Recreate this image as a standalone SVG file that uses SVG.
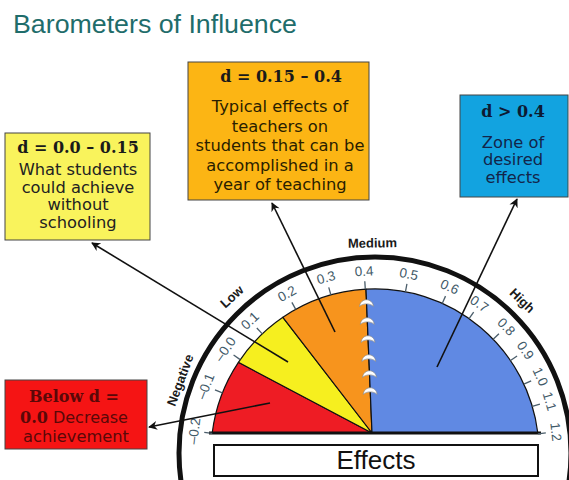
<svg xmlns="http://www.w3.org/2000/svg" width="569" height="480" viewBox="0 0 569 480">
<defs>
<style>
.title{font-family:"Liberation Sans",Arial,sans-serif;font-size:26px;fill:#1f6d6b}
.hd{font-family:"DejaVu Serif",Georgia,serif;font-weight:bold;font-size:16px;text-anchor:middle}
.bd{font-family:"DejaVu Sans",Verdana,sans-serif;font-size:16.3px;text-anchor:middle}
.box{stroke:#444;stroke-width:1}
.tick{stroke:#4a5d6a;stroke-width:1.3}
.lbl{font-family:"Liberation Sans",Arial,sans-serif;font-size:13.5px;fill:#3f5968;text-anchor:middle;dominant-baseline:central}
.rng{font-family:"Liberation Sans",Arial,sans-serif;font-weight:bold;font-size:13px;fill:#1a1a1a;text-anchor:middle;dominant-baseline:central}
.wedge{stroke:#111;stroke-width:1.2;stroke-linejoin:round}
.conn{stroke:#111;stroke-width:1.6;fill:none;marker-end:url(#ah)}
.cres{fill:#fff;stroke:#8a8a8a;stroke-width:0.7}
</style>
<marker id="ah" viewBox="0 0 10 10" refX="9" refY="5" markerWidth="11" markerHeight="9" markerUnits="userSpaceOnUse" orient="auto">
<path d="M0,0 L10,5 L0,10 L3,5 Z" fill="#111"/>
</marker>
<path id="cr" d="M-7,4.5 C-6,-4.5 6,-4.5 7,4.5 C4,1 -4,1 -7,4.5 Z"/>
</defs>
<rect width="569" height="480" fill="#fff"/>

<text id="title" class="title" x="13" y="33" textLength="284" lengthAdjust="spacingAndGlyphs">Barometers of Influence</text>

<g id="gauge">
<circle cx="375" cy="453" r="196" fill="none" stroke="#111" stroke-width="5"/>
<path class="wedge" fill="#ee1c24" d="M372,433 L212.2,433 A164,164 0 0 1 238.4,362.3 Z"/>
<path class="wedge" fill="#f6ef1f" d="M372,433 L238.4,362.3 A164,164 0 0 1 282.9,317.3 Z"/>
<path class="wedge" fill="#f7941d" d="M372,433 L282.9,317.3 A164,164 0 0 1 366,289.2 Z"/>
<path class="wedge" fill="#6089e3" d="M372,433 L366,289.2 A164,164 0 0 1 537.8,433 Z"/>
<line x1="209" y1="433" x2="541" y2="433" stroke="#111" stroke-width="3"/>
<g id="crescents">
<use href="#cr" class="cres" x="366.5" y="302"/>
<use href="#cr" class="cres" x="367.3" y="320"/>
<use href="#cr" class="cres" x="368" y="338"/>
<use href="#cr" class="cres" x="368.8" y="357"/>
<use href="#cr" class="cres" x="369.5" y="373"/>
<use href="#cr" class="cres" x="370.2" y="390"/>
</g>
<g id="scale">
<g transform="translate(375 453) rotate(-83.1)"><line class="tick" x1="0" y1="-164" x2="0" y2="-172"/><text class="lbl" x="0" y="-182">–0.2</text></g>
<g transform="translate(375 453) rotate(-68.5)"><line class="tick" x1="0" y1="-164" x2="0" y2="-172"/><text class="lbl" x="0" y="-182">–0.1</text></g>
<g transform="translate(375 453) rotate(-55.3)"><line class="tick" x1="0" y1="-164" x2="0" y2="-172"/><text class="lbl" x="0" y="-182">–0.0</text></g>
<g transform="translate(375 453) rotate(-43.4)"><line class="tick" x1="0" y1="-164" x2="0" y2="-172"/><text class="lbl" x="0" y="-182">0.1</text></g>
<g transform="translate(375 453) rotate(-28.9)"><line class="tick" x1="0" y1="-164" x2="0" y2="-172"/><text class="lbl" x="0" y="-182">0.2</text></g>
<g transform="translate(375 453) rotate(-15.6)"><line class="tick" x1="0" y1="-164" x2="0" y2="-172"/><text class="lbl" x="0" y="-182">0.3</text></g>
<g transform="translate(375 453) rotate(-3.4)"><line class="tick" x1="0" y1="-164" x2="0" y2="-172"/><text class="lbl" x="0" y="-182">0.4</text></g>
<g transform="translate(375 453) rotate(10.7)"><line class="tick" x1="0" y1="-164" x2="0" y2="-172"/><text class="lbl" x="0" y="-182">0.5</text></g>
<g transform="translate(375 453) rotate(24.2)"><line class="tick" x1="0" y1="-164" x2="0" y2="-172"/><text class="lbl" x="0" y="-182">0.6</text></g>
<g transform="translate(375 453) rotate(35)"><line class="tick" x1="0" y1="-164" x2="0" y2="-172"/><text class="lbl" x="0" y="-182">0.7</text></g>
<g transform="translate(375 453) rotate(46.1)"><line class="tick" x1="0" y1="-164" x2="0" y2="-172"/><text class="lbl" x="0" y="-182">0.8</text></g>
<g transform="translate(375 453) rotate(55.7)"><line class="tick" x1="0" y1="-164" x2="0" y2="-172"/><text class="lbl" x="0" y="-182">0.9</text></g>
<g transform="translate(375 453) rotate(65.2)"><line class="tick" x1="0" y1="-164" x2="0" y2="-172"/><text class="lbl" x="0" y="-182">1.0</text></g>
<g transform="translate(375 453) rotate(73.5)"><line class="tick" x1="0" y1="-164" x2="0" y2="-172"/><text class="lbl" x="0" y="-182">1.1</text></g>
<g transform="translate(375 453) rotate(83.3)"><line class="tick" x1="0" y1="-164" x2="0" y2="-172"/><text class="lbl" x="0" y="-182">1.2</text></g>
</g>
<g id="ranges">
<text class="rng" transform="translate(375 453) rotate(-69.5)" x="0" y="-208">Negative</text>
<text class="rng" transform="translate(375 453) rotate(-42.5)" x="0" y="-212">Low</text>
<text class="rng" transform="translate(375 453) rotate(-0.7)" x="0" y="-210">Medium</text>
<text class="rng" transform="translate(375 453) rotate(44)" x="0" y="-212">High</text>
</g>
</g>

<g id="effects">
<rect x="214" y="445" width="324" height="31" fill="#fff" stroke="#111" stroke-width="2"/>
<text x="376" y="469" font-family="Liberation Sans, Arial, sans-serif" font-size="26" text-anchor="middle" fill="#111">Effects</text>
</g>

<g id="box-yellow">
<rect class="box" x="5" y="133" width="145" height="107" fill="#f9f35c"/>
<text class="hd" x="78" y="153" fill="#1a1a1a">d = 0.0 – 0.15</text>
<text class="bd" fill="#222" x="78" y="175" font-size="16">What students</text>
<text class="bd" fill="#222" x="78" y="192.5" font-size="16">could achieve</text>
<text class="bd" fill="#222" x="78" y="210" font-size="16">without</text>
<text class="bd" fill="#222" x="78" y="227.5" font-size="16">schooling</text>
</g>

<g id="box-orange">
<rect class="box" x="188" y="62" width="181" height="138" fill="#fcb514"/>
<text class="hd" x="281" y="82" fill="#1a1a1a" font-size="16.5">d = 0.15 – 0.4</text>
<text class="bd" fill="#2a1e00" x="280" y="112">Typical effects of</text>
<text class="bd" fill="#2a1e00" x="280" y="131.5">teachers on</text>
<text class="bd" fill="#2a1e00" x="280" y="150.5">students that can be</text>
<text class="bd" fill="#2a1e00" x="280" y="170.5">accomplished in a</text>
<text class="bd" fill="#2a1e00" x="280" y="189.5">year of teaching</text>
</g>

<g id="box-blue">
<rect class="box" x="460" y="95" width="108" height="102" fill="#12a3e0"/>
<text class="hd" x="513" y="117" fill="#0d1a33" font-size="15">d &gt; 0.4</text>
<text class="bd" fill="#13254a" x="513" y="147.5" font-size="15.5">Zone of</text>
<text class="bd" fill="#13254a" x="513" y="165" font-size="15.5">desired</text>
<text class="bd" fill="#13254a" x="513" y="182.5" font-size="15.5">effects</text>
</g>

<g id="box-red">
<rect class="box" x="5" y="380" width="142" height="69" fill="#f51414" stroke="#600"/>
<text class="hd" x="74" y="402" fill="#5a0808">Below d =</text>
<text x="74" y="423" text-anchor="middle" fill="#5a0808"><tspan font-family="DejaVu Serif, Georgia, serif" font-weight="bold" font-size="16">0.0</tspan><tspan font-family="DejaVu Sans, Verdana, sans-serif" font-size="16"> Decrease</tspan></text>
<text class="bd" fill="#5a0808" x="76" y="442" font-size="16">achievement</text>
</g>

<g id="connectors">
<path class="conn" d="M288,362 L92,243"/>
<path class="conn" d="M335,332 L272,203"/>
<path class="conn" d="M437,367 L517,199"/>
<path class="conn" d="M270,403 L149,427"/>
</g>
</svg>
